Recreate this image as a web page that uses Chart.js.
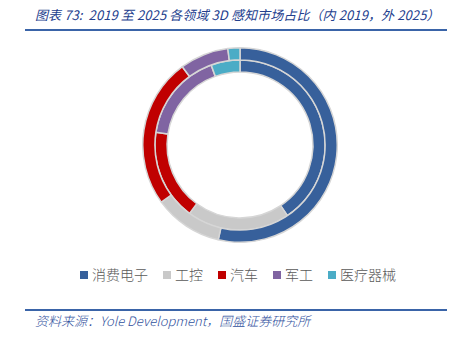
<!DOCTYPE html>
<html>
<head>
<meta charset="utf-8">
<script src="https://cdn.jsdelivr.net/npm/chart.js@4/dist/chart.umd.min.js"></script>
<style>
  html, body { margin: 0; padding: 0; background: #fff; }
  body { width: 456px; height: 337px; position: relative; overflow: hidden;
         font-family: "Noto Sans CJK SC", "Liberation Sans", sans-serif; }
  #title { position: absolute; left: 35px; top: 5px; font-size: 13px; font-style: italic;
           color: #23408e; white-space: nowrap; letter-spacing: 0.1px; }
  .rule { position: absolute; left: 25px; width: 422px; background: #3a64a8; }
  #chartBox { position: absolute; left: 142px; top: 47px; width: 196px; height: 196px; }
  #legend { position: absolute; left: 10px; width: 456px; top: 264px; text-align: center;
            font-size: 14px; font-weight: 300; color: #595959; white-space: nowrap; }
  #legend span.item { display: inline-block; margin: 0 7.5px; }
  #legend i { display: inline-block; width: 8px; height: 8px; margin-right: 4px; vertical-align: 1px; }
  #source { position: absolute; left: 35px; top: 311px; font-size: 13px; font-style: italic; font-weight: 300;
            color: #2f4f9c; white-space: nowrap; }
</style>
</head>
<body>
<div id="title">图表 73:&nbsp; 2019 至 2025 各领域 3D 感知市场占比（内 2019，外 2025）</div>
<div class="rule" style="top:29px;height:2px;"></div>
<div id="chartBox"><canvas id="c"></canvas></div>
<div id="legend"></div>
<div class="rule" style="top:309px;height:1.5px;"></div>
<div id="source">资料来源：Yole Development，国盛证券研究所</div>
<script>
// Application segments and their colours
const categories = ['消费电子', '工控', '汽车', '军工', '医疗器械'];
const colors = ['#37609b', '#c9c9c9', '#c00000', '#8064a2', '#4bacc6'];
// Market share (%) per segment
const share2025 = [53.6, 11.4, 24.9, 8.1, 2.0];   // outer ring
const share2019 = [40.6, 19.5, 17.3, 17.1, 5.5];  // inner ring

new Chart(document.getElementById('c'), {
  type: 'doughnut',
  data: {
    labels: categories,
    datasets: [
      { label: '2025', data: share2025, backgroundColor: colors, borderColor: '#d6d6d6', borderWidth: 1.5 },
      { label: '2019', data: share2019, backgroundColor: colors, borderColor: '#d6d6d6', borderWidth: 1.5 }
    ]
  },
  options: {
    responsive: true,
    maintainAspectRatio: false,
    animation: false,
    cutout: '75%',
    layout: { padding: 0 },
    plugins: { legend: { display: false }, tooltip: { enabled: false } }
  }
});

// Legend built from the same categories and colours
const legend = document.getElementById('legend');
categories.forEach((name, i) => {
  const item = document.createElement('span');
  item.className = 'item';
  const sw = document.createElement('i');
  sw.style.background = colors[i];
  item.appendChild(sw);
  item.appendChild(document.createTextNode(name));
  legend.appendChild(item);
});
</script>
</body>
</html>
